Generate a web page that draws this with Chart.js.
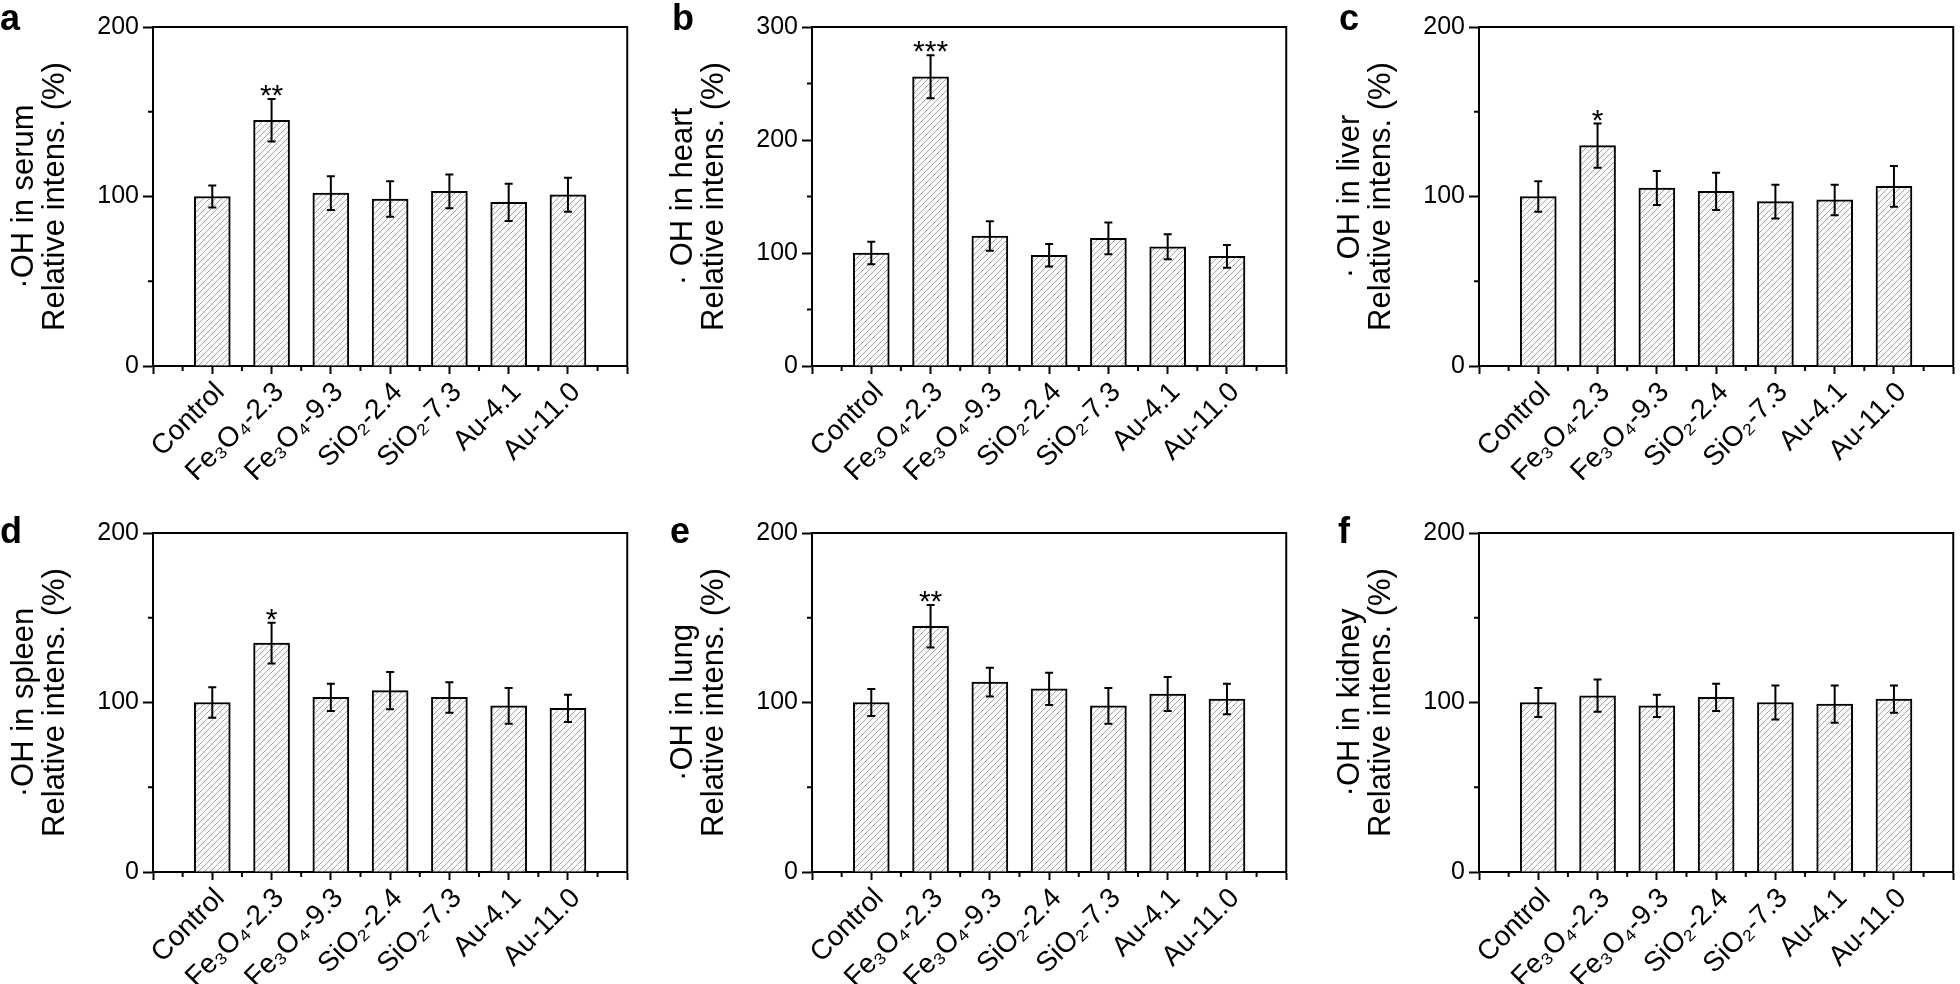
<!DOCTYPE html>
<html>
<head>
<meta charset="utf-8">
<script src="https://cdn.jsdelivr.net/npm/chart.js@4.4.0/dist/chart.umd.min.js"></script>
<style>
  html, body { margin: 0; padding: 0; background: #fff; width: 1960px; height: 984px; overflow: hidden; }
  .panel { position: absolute; }
</style>
</head>
<body>
<div class="panel" style="left:0px;top:0px"><canvas id="ca" width="653" height="480"></canvas></div>
<div class="panel" style="left:659px;top:0px"><canvas id="cb" width="653" height="480"></canvas></div>
<div class="panel" style="left:1326px;top:0px"><canvas id="cc" width="653" height="480"></canvas></div>
<div class="panel" style="left:0px;top:506px"><canvas id="cd" width="653" height="480"></canvas></div>
<div class="panel" style="left:659px;top:506px"><canvas id="ce" width="653" height="480"></canvas></div>
<div class="panel" style="left:1326px;top:506px"><canvas id="cf" width="653" height="480"></canvas></div>
<script>
// categories shared by every panel
const categories = ['Control', 'Fe₃O₄-2.3', 'Fe₃O₄-9.3', 'SiO₂-2.4', 'SiO₂-7.3', 'Au-4.1', 'Au-11.0'];

// mean relative intensity (%) and error (+/-)
const serumMean  = [100, 145, 102, 98.5, 103, 96.5, 101];
const serumErr   = [6.5, 12.5, 10, 10.5, 10, 11, 10];
const serumSig   = ['', '**', '', '', '', '', ''];

const heartMean  = [100, 256, 115, 98, 113, 105.5, 97];
const heartErr   = [10, 19, 13, 10, 14, 11, 10];
const heartSig   = ['', '***', '', '', '', '', ''];

const liverMean  = [100, 130, 105, 103, 97, 98, 106];
const liverErr   = [9, 13, 10, 11, 10, 9, 12];
const liverSig   = ['', '*', '', '', '', '', ''];

const spleenMean = [100, 135, 103, 107, 103, 98, 96.5];
const spleenErr  = [9, 12, 8, 11, 9, 10.5, 8];
const spleenSig  = ['', '*', '', '', '', '', ''];

const lungMean   = [100, 145, 112, 108, 98, 105, 102];
const lungErr    = [8, 12.5, 8.5, 9.5, 10.5, 10, 9];
const lungSig    = ['', '**', '', '', '', '', ''];

const kidneyMean = [100, 104, 98, 103, 100, 99, 102];
const kidneyErr  = [8.5, 9.5, 6.5, 8, 10, 11, 8];
const kidneySig  = ['', '', '', '', '', '', ''];

// y tick labels
const yTicks200 = [0, 100, 200];
const yTicks300 = [0, 100, 200, 300];

const FONT = "'Liberation Sans', Arial, Helvetica, sans-serif";

const panels = [
    { id: 'ca', letter: 'a', letterX: 0,  letterY: 30, organ: '·OH in serum',  mean: serumMean,  err: serumErr,  sig: serumSig,  yMax: 200, yTicks: yTicks200 },
    { id: 'cb', letter: 'b', letterX: 13, letterY: 30, organ: '· OH in heart', mean: heartMean,  err: heartErr,  sig: heartSig,  yMax: 300, yTicks: yTicks300 },
    { id: 'cc', letter: 'c', letterX: 13, letterY: 30, organ: '· OH in liver', mean: liverMean,  err: liverErr,  sig: liverSig,  yMax: 200, yTicks: yTicks200 },
    { id: 'cd', letter: 'd', letterX: 0,  letterY: 37, organ: '·OH in spleen', mean: spleenMean, err: spleenErr, sig: spleenSig, yMax: 200, yTicks: yTicks200 },
    { id: 'ce', letter: 'e', letterX: 11, letterY: 37, organ: '·OH in lung',   mean: lungMean,   err: lungErr,   sig: lungSig,   yMax: 200, yTicks: yTicks200 },
    { id: 'cf', letter: 'f', letterX: 12, letterY: 37, organ: '·OH in kidney', mean: kidneyMean, err: kidneyErr, sig: kidneySig, yMax: 200, yTicks: yTicks200 }
];

function makeHatch() {
    const c = document.createElement('canvas');
    c.width = 6;
    c.height = 6;
    const g = c.getContext('2d');
    g.fillStyle = '#fbfbfb';
    g.fillRect(0, 0, 6, 6);
    g.strokeStyle = '#a6a6a6';
    g.lineWidth = 1;
    g.beginPath();
    g.moveTo(0, 6); g.lineTo(6, 0);
    g.moveTo(-1, 1); g.lineTo(1, -1);
    g.moveTo(5, 7); g.lineTo(7, 5);
    g.stroke();
    return g.createPattern(c, 'repeat');
}

// error bars, stars, frame, minor ticks and panel letter
const decorPlugin = {
    id: 'decor',
    afterDatasetsDraw(chart, args, opts) {
        const p = opts.panel;
        const { ctx, chartArea: area } = chart;
        const x = chart.scales.x, y = chart.scales.y;
        ctx.save();
        ctx.strokeStyle = '#000';
        ctx.lineWidth = 2;
        p.mean.forEach((m, i) => {
            const px = x.getPixelForValue(i);
            const hi = y.getPixelForValue(m + p.err[i]);
            const lo = y.getPixelForValue(m - p.err[i]);
            ctx.beginPath();
            ctx.moveTo(px, hi); ctx.lineTo(px, lo);
            ctx.moveTo(px - 4, hi); ctx.lineTo(px + 4, hi);
            ctx.moveTo(px - 4, lo); ctx.lineTo(px + 4, lo);
            ctx.stroke();
            if (p.sig[i]) {
                ctx.fillStyle = '#000';
                ctx.font = '30px ' + FONT;
                ctx.textAlign = 'center';
                ctx.textBaseline = 'alphabetic';
                ctx.fillText(p.sig[i], px, hi + 6);
            }
        });
        // top and right frame
        ctx.beginPath();
        ctx.moveTo(area.left, area.top);
        ctx.lineTo(area.right, area.top);
        ctx.lineTo(area.right, area.bottom);
        ctx.stroke();
        // minor ticks
        ctx.beginPath();
        for (let v = -0.5; v < 7; v += 1) {
            const px = x.getPixelForValue(v);
            ctx.moveTo(px, area.bottom);
            ctx.lineTo(px, area.bottom + 5);
        }
        for (let v = 50; v < p.yMax; v += 100) {
            const py = y.getPixelForValue(v);
            ctx.moveTo(area.left - 5, py);
            ctx.lineTo(area.left, py);
        }
        ctx.stroke();
        ctx.restore();
    },
    afterDraw(chart, args, opts) {
        const p = opts.panel;
        const ctx = chart.ctx;
        ctx.save();
        ctx.fillStyle = '#000';
        ctx.font = 'bold 36px ' + FONT;
        ctx.textAlign = 'left';
        ctx.textBaseline = 'alphabetic';
        ctx.fillText(p.letter, p.letterX, p.letterY);
        ctx.restore();
    }
};

window.onload = function () {
    panels.forEach(p => {
        const ctx = document.getElementById(p.id).getContext('2d');
        new Chart(ctx, {
            type: 'bar',
            data: {
                datasets: [{
                    data: p.mean.map((v, i) => ({ x: i, y: v })),
                    backgroundColor: makeHatch(),
                    borderColor: '#000',
                    borderWidth: 2,
                    barThickness: 36
                }]
            },
            plugins: [decorPlugin],
            options: {
                responsive: false,
                animation: false,
                devicePixelRatio: 1,
                layout: { padding: { top: 27, right: 20, left: 0, bottom: 0 } },
                plugins: {
                    legend: { display: false },
                    tooltip: { enabled: false },
                    decor: { panel: p }
                },
                scales: {
                    x: {
                        type: 'linear',
                        min: -1,
                        max: 7,
                        offset: false,
                        afterBuildTicks: s => {
                            const t = [];
                            for (let v = -1; v <= 7; v++) t.push({ value: v });
                            s.ticks = t;
                        },
                        afterFit: s => { s.height = 114; },
                        ticks: {
                            autoSkip: false,
                            minRotation: 45,
                            maxRotation: 45,
                            color: '#000',
                            padding: 2,
                            labelOffset: 8,
                            font: { family: FONT, size: 28 },
                            callback: v => categories[v] ?? ''
                        },
                        grid: { drawOnChartArea: false, offset: false, tickLength: 8, tickColor: '#000', tickWidth: 2 },
                        border: { display: true, color: '#000', width: 2 }
                    },
                    y: {
                        type: 'linear',
                        min: 0,
                        max: p.yMax,
                        afterBuildTicks: s => { s.ticks = p.yTicks.map(v => ({ value: v })); },
                        afterFit: s => { s.width = 153; },
                        ticks: {
                            color: '#000',
                            padding: 4,
                            font: { family: FONT, size: 25 }
                        },
                        grid: { drawOnChartArea: false, tickLength: 10, tickColor: '#000', tickWidth: 2 },
                        border: { display: true, color: '#000', width: 2 },
                        title: {
                            display: true,
                            text: [p.organ, 'Relative intens. (%)'],
                            color: '#000',
                            font: { family: FONT, size: 31, lineHeight: 1 },
                            padding: { top: 9, bottom: 0 }
                        }
                    }
                }
            }
        });
    });
};
</script>
</body>
</html>
